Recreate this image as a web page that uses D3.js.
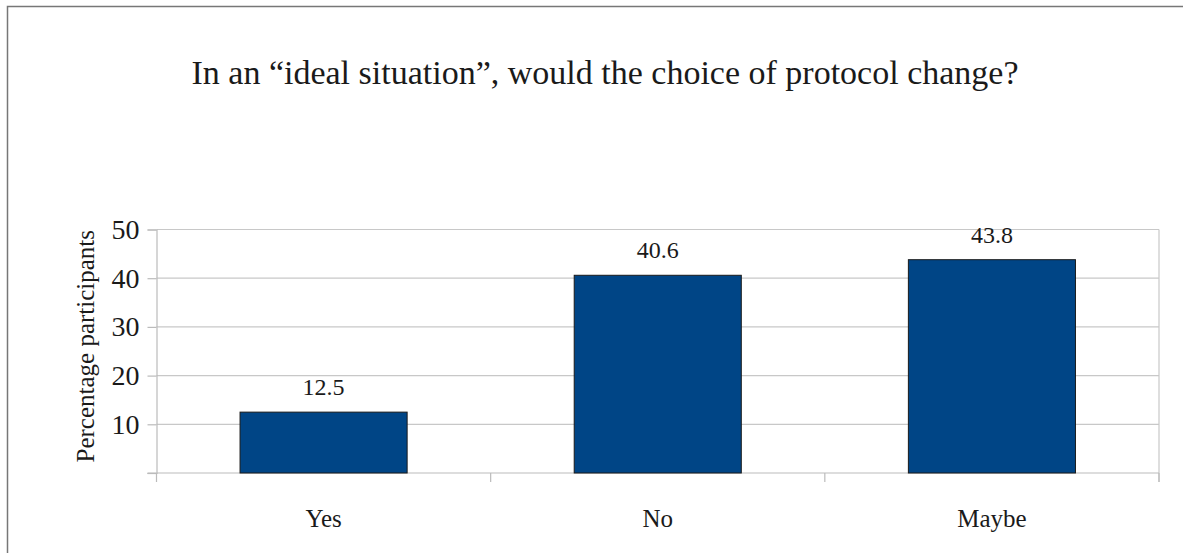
<!DOCTYPE html>
<html>
<head>
<meta charset="utf-8">
<script src="https://cdn.jsdelivr.net/npm/d3@7"></script>
<style>
  body { margin: 0; background: #fff; }
  text { font-family: "Liberation Serif", "DejaVu Serif", serif; fill: #1a1a1a; }
</style>
</head>
<body>
<div id="chart"></div>
<script>
// data
var categories = ["Yes", "No", "Maybe"];
var values = [12.5, 40.6, 43.8];
var yTicks = [10, 20, 30, 40, 50];
var chartTitle = "In an \u201Cideal situation\u201D, would the choice of protocol change?";
var yTitle = "Percentage participants";

var width = 1183, height = 553;
var margin = {top: 229.5, right: 24, bottom: 80, left: 156.5};
var plotW = 1159 - margin.left;
var plotH = 473 - margin.top;

var svg = d3.select("#chart").append("svg")
  .attr("width", width)
  .attr("height", height);

// outer frame
svg.append("rect")
  .attr("x", 7.5).attr("y", 6.5)
  .attr("width", width + 10).attr("height", height + 10)
  .attr("fill", "none")
  .attr("stroke", "#777")
  .attr("stroke-width", 1.5);

svg.append("text")
  .attr("x", 605)
  .attr("y", 84)
  .attr("text-anchor", "middle")
  .style("font-size", "34px")
  .text(chartTitle);

var g = svg.append("g")
  .attr("transform", "translate(" + margin.left + "," + margin.top + ")");

var x = d3.scaleBand().domain(categories).range([0, plotW]).paddingInner(0.5).paddingOuter(0.25);
var y = d3.scaleLinear().domain([0, 50]).range([plotH, 0]);

// gridlines
g.selectAll(".grid")
  .data(yTicks)
  .enter().append("line")
  .attr("x1", 0).attr("x2", plotW)
  .attr("y1", function(d) { return y(d); })
  .attr("y2", function(d) { return y(d); })
  .attr("stroke", "#c8c8c8")
  .attr("stroke-width", 1.2);

// right border of plot
g.append("line")
  .attr("x1", plotW).attr("x2", plotW)
  .attr("y1", 0).attr("y2", plotH + 9)
  .attr("stroke", "#c8c8c8").attr("stroke-width", 1.2);

// y axis
var yAxis = g.append("g")
  .call(d3.axisLeft(y).tickValues([0].concat(yTicks)).tickSize(9).tickPadding(8).tickFormat(function(d) { return d === 0 ? "" : d; }));
yAxis.selectAll("line").attr("stroke", "#bbb").attr("stroke-width", 1.2);
yAxis.select(".domain").attr("stroke", "#bbb").attr("stroke-width", 1.2);
yAxis.selectAll("text").style("font-size", "28px").attr("font-family", null).attr("fill", "#1a1a1a");

// x axis with ticks on band boundaries
var bounds = [0].concat(categories.map(function(c) { return x(c) + x.bandwidth() + x.step() * 0.25; }));
var xAxisG = g.append("g").attr("transform", "translate(0," + plotH + ")");
xAxisG.append("line")
  .attr("x1", -9).attr("x2", plotW)
  .attr("stroke", "#bbb").attr("stroke-width", 1.2);
xAxisG.selectAll(".xt")
  .data(bounds)
  .enter().append("line")
  .attr("x1", function(d) { return d; }).attr("x2", function(d) { return d; })
  .attr("y1", 0).attr("y2", 9)
  .attr("stroke", "#bbb").attr("stroke-width", 1.2);
xAxisG.selectAll(".xl")
  .data(categories)
  .enter().append("text")
  .attr("x", function(d) { return x(d) + x.bandwidth() / 2; })
  .attr("y", 54)
  .attr("text-anchor", "middle")
  .style("font-size", "25px")
  .text(function(d) { return d; });

// bars
g.selectAll(".bar")
  .data(values)
  .enter().append("rect")
  .attr("x", function(d, i) { return x(categories[i]); })
  .attr("width", x.bandwidth())
  .attr("y", function(d) { return y(d); })
  .attr("height", function(d) { return plotH - y(d); })
  .attr("fill", "#004586")
  .attr("stroke", "#1a1a1a")
  .attr("stroke-width", 1);

// value labels
g.selectAll(".val")
  .data(values)
  .enter().append("text")
  .attr("x", function(d, i) { return x(categories[i]) + x.bandwidth() / 2; })
  .attr("y", function(d) { return y(d) - 17; })
  .attr("text-anchor", "middle")
  .style("font-size", "24px")
  .text(function(d) { return d.toFixed(1); });

// y title
svg.append("text")
  .attr("transform", "translate(94," + (margin.top + plotH / 2 - 5) + ") rotate(-90)")
  .attr("text-anchor", "middle")
  .style("font-size", "25px")
  .text(yTitle);
</script>
</body>
</html>
